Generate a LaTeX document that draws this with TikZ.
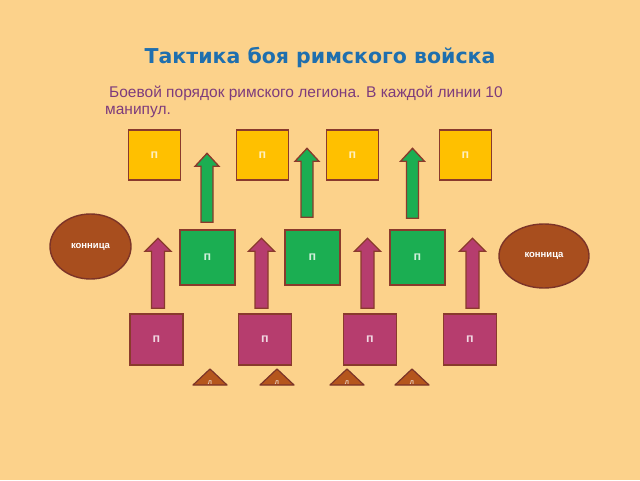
\documentclass[tikz,border=0pt]{standalone}
\usepackage{fontspec}
\setmainfont{Liberation Sans}
\newfontfamily\titlefont{DejaVu Sans}
\usepackage{tikz}
\usetikzlibrary{shapes,positioning,calc}

\definecolor{bgc}{HTML}{FCD28B}
\definecolor{titlec}{HTML}{1F6FAE}
\definecolor{subc}{HTML}{7E3C7C}
\definecolor{edgec}{HTML}{8A3A2C}
\definecolor{hastc}{HTML}{FFC000}
\definecolor{princc}{HTML}{1BAE52}
\definecolor{triarc}{HTML}{B63D6E}
\definecolor{cavc}{HTML}{A84E1E}
\definecolor{velc}{HTML}{B5561D}

\tikzset{
  manip/.style={rectangle, draw=edgec, line width=1.4pt, inner sep=0pt,
    font=\fontsize{12.5}{13}\selectfont\bfseries},
  hast/.style={manip, fill=hastc, text=hastc!25!white, minimum width=52pt, minimum height=50pt},
  princ/.style={manip, fill=princc, text=princc!20!white, minimum size=55pt},
  triar/.style={manip, fill=triarc, text=triarc!20!white, minimum width=53pt, minimum height=51pt},
  cav/.style={ellipse, draw=edgec!90!black, line width=1.4pt, fill=cavc, text=white,
    inner sep=0pt, font=\fontsize{9.5}{10}\selectfont\bfseries},
  vel/.style={draw=edgec!90!black, line width=1.2pt, fill=velc, line join=round},
  veltxt/.style={text=white, inner sep=0pt, font=\fontsize{7}{7}\selectfont},
  parr/.style={draw=edgec, line width=1.3pt, fill=triarc},
  garr/.style={draw=edgec, line width=1.3pt, fill=princc}
}

% block arrow: style, node, dx, gap, length, half shaft, half head
\newcommand{\upblock}[7]{%
  \draw[#1, shift={($(#2.north)+(#3,#4)$)}]
    (-#6,0) -- (-#6,#5-13) -- (-#7,#5-13) -- (0,#5) -- (#7,#5-13) -- (#6,#5-13) -- (#6,0) -- cycle;}

\begin{document}
\begin{tikzpicture}[x=1pt,y=1pt]
  \fill[bgc] (0,0) rectangle (640,480);
  \useasboundingbox (0,0) rectangle (640,480);

  % Titles
  \node[anchor=base, text=titlec, font=\titlefont\fontsize{20.5}{24}\selectfont\bfseries]
    (title) at (320,416) {Тактика боя римского войска};
  \node[anchor=base west, text=subc, align=left, inner sep=0pt,
    font=\fontsize{15.5}{17}\selectfont]
    (sub) at (105,365) {\hspace{4pt}Боевой порядок римского легиона. В каждой линии 10\\манипул.};

  % Define nodes
  \node[hast] (h1) at (154.5,325) {п};
  \node[hast] (h2) at (262.5,325) {п};
  \node[hast] (h3) at (352.5,325) {п};
  \node[hast] (h4) at (465.5,325) {п};

  \node[princ] (p1) at (207.5,222.5) {п};
  \node[princ] (p2) at (312.5,222.5) {п};
  \node[princ] (p3) at (417.5,222.5) {п};

  \node[triar] (t1) at (156.5,140.5) {п};
  \node[triar] (t2) at (265,140.5) {п};
  \node[triar] (t3) at (370,140.5) {п};
  \node[triar] (t4) at (470,140.5) {п};

  \node[cav, minimum width=81pt, minimum height=65pt] (cl) at (90.5,233.5) {конница};
  \node[cav, minimum width=90pt, minimum height=64pt] (cr) at (544,224) {конница};

  % Light troops
  \foreach \x [count=\i] in {210,277,347,412}{
    \draw[vel] (\x-17,95) -- (\x,111) -- (\x+17,95) -- cycle;
    \node[veltxt, anchor=base] (v\i) at (\x,95.5) {л};
  }

  % Arrows
  \upblock{garr}{p1}{-0.5}{7}{69}{6}{12}
  \upblock{garr}{p2}{-5.5}{12}{69}{6}{12}
  \upblock{garr}{p3}{-5}{11}{70}{6}{12}

  \upblock{parr}{t1}{1.5}{5}{70}{6.5}{13}
  \upblock{parr}{t2}{-3.5}{5}{70}{6.5}{13}
  \upblock{parr}{t3}{-2.5}{5}{70}{6.5}{13}
  \upblock{parr}{t4}{2.5}{5}{70}{6.5}{13}
\end{tikzpicture}
\end{document}
